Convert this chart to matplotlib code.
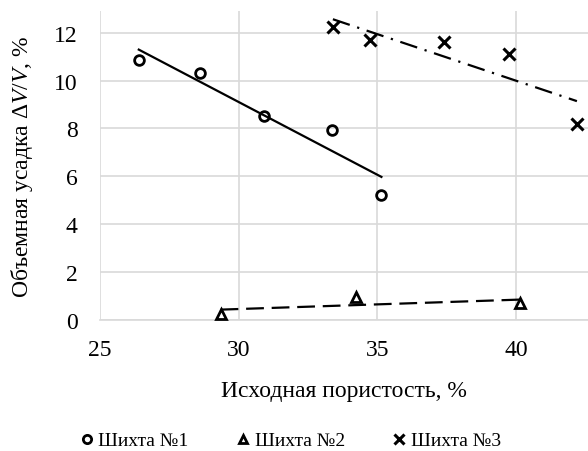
import numpy as np
from matplotlib import pyplot as plt

# Шихта №1
porosity_1 = [26.4, 28.6, 30.9, 33.35, 35.15]
shrink_1 = [10.85, 10.33, 8.53, 7.95, 5.2]
# Шихта №2
porosity_2 = [29.35, 34.25, 40.15]
shrink_2 = [0.25, 0.95, 0.7]
# Шихта №3
porosity_3 = [33.4, 34.75, 37.4, 39.75, 42.2]
shrink_3 = [12.25, 11.7, 11.6, 11.1, 8.2]

labels = ['Шихта №1', 'Шихта №2', 'Шихта №3']
x_ticks = [25, 30, 35, 40]
y_ticks = [0, 2, 4, 6, 8, 10, 12]

plt.rcParams['font.family'] = ['Liberation Serif', 'DejaVu Serif']
plt.rcParams['mathtext.fontset'] = 'custom'
plt.rcParams['mathtext.rm'] = 'Liberation Serif'
plt.rcParams['mathtext.it'] = 'Liberation Serif:italic'


def trend(ax, xs, ys, style):
    k, b = np.polyfit(xs, ys, 1)
    xx = np.array([min(xs), max(xs)])
    ax.plot(xx, k * xx + b, color='black', lw=1.6, linestyle=style, zorder=3)


fig = plt.figure(figsize=(5.88, 4.52), dpi=100)
ax = fig.add_axes([0.170, 0.290, 0.830, 0.683])

ax.plot(porosity_1, shrink_1, 'o', ms=7, mfc='none', mec='black', mew=2.0,
        linestyle='none', label=labels[0], zorder=4)
ax.plot(porosity_2, shrink_2, '^', ms=7, mfc='none', mec='black', mew=2.0,
        linestyle='none', label=labels[1], zorder=4)
ax.plot(porosity_3, shrink_3, 'x', ms=8, mec='black', mew=2.2,
        linestyle='none', label=labels[2], zorder=4)

trend(ax, porosity_1, shrink_1, '-')
trend(ax, porosity_2, shrink_2, (0, (8, 3.5)))
trend(ax, porosity_3, shrink_3, (0, (8, 3.5, 1, 3.5)))

ax.set_xlim(25, 42.6)
ax.set_ylim(0, 12.9)
ax.set_xticks(x_ticks)
ax.set_yticks(y_ticks)
ax.grid(True, color='#d9d9d9', lw=1.2, zorder=0)
ax.set_axisbelow(True)
for side in ['top', 'right', 'left']:
    ax.spines[side].set_visible(False)
ax.spines['bottom'].set_color('#d9d9d9')
ax.spines['bottom'].set_linewidth(1.2)
ax.tick_params(axis='y', length=0, labelsize=17, pad=16)
ax.tick_params(axis='x', length=0, labelsize=17, pad=14)

ax.set_xlabel('Исходная пористость, %', fontsize=17, labelpad=14)
ax.set_ylabel('Объемная усадка $\\mathit{\\Delta V/V}$, %', fontsize=17, labelpad=14)

fig.legend(loc='lower center', bbox_to_anchor=(0.49, -0.035), ncol=3, frameon=False,
           fontsize=14, handletextpad=0.0, columnspacing=2.2, markerscale=0.85,
           handlelength=1.2)

fig.savefig('out.png', dpi=100)
